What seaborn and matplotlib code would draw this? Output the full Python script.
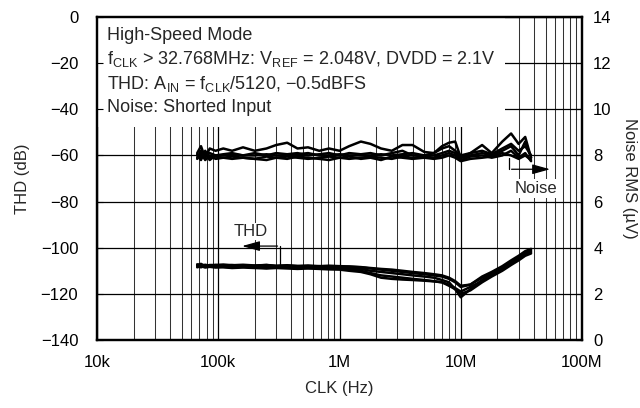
import numpy as np
import pandas as pd
import matplotlib
matplotlib.use("Agg")
import matplotlib.pyplot as plt
from matplotlib.patches import Rectangle
from matplotlib.ticker import FixedLocator, LogLocator, NullFormatter
import seaborn as sns

# clock frequencies (Hz) shared by every sweep
freq = [67e3, 72e3, 78e3, 85e3, 95e3, 110e3, 130e3, 160e3, 200e3, 250e3,
        300e3, 370e3, 450e3, 550e3, 680e3, 820e3, 1.0e6, 1.2e6, 1.5e6, 1.8e6,
        2.2e6, 2.7e6, 3.3e6, 4.0e6, 5.0e6, 6.0e6, 7.0e6, 8.0e6, 9.0e6, 10e6,
        12e6, 15e6, 18e6, 22e6, 26e6, 30e6, 34e6, 38e6]

# noise RMS (uV), one list per device
noise_1 = [8.1, 8.4, 7.9, 8.3, 8.2, 8.3, 8.2, 8.35, 8.2, 8.3, 8.45, 8.55, 8.3, 8.35, 8.2, 8.3, 8.2, 8.4, 8.6,
           8.5, 8.3, 8.2, 8.45, 8.45, 8.15, 8.1, 8.4, 8.55, 8.6, 7.9, 8.1, 8.45, 8.1, 8.6, 8.95, 8.5, 8.8, 7.9]
noise_2 = [7.9, 8.2, 8.0, 8.1, 8.0, 8.05, 8.1, 8.0, 8.1, 8.0, 8.1, 8.05, 8.1, 8.0, 8.05, 8.1, 8.0, 8.1, 8.05,
           8.1, 8.0, 8.1, 8.2, 8.0, 8.0, 8.1, 8.3, 8.4, 8.2, 8.0, 8.1, 8.2, 8.05, 8.3, 8.5, 8.2, 8.4, 8.0]
noise_3 = [8.0, 7.8, 8.2, 7.9, 7.95, 7.9, 7.95, 7.9, 7.85, 7.95, 7.9, 7.95, 7.9, 7.85, 7.9, 7.95, 7.9, 7.85, 7.9,
           7.95, 7.9, 7.85, 7.95, 7.9, 7.95, 7.9, 8.0, 8.1, 8.0, 7.8, 7.95, 8.0, 7.9, 8.0, 8.2, 7.9, 8.1, 7.75]
noise_4 = [7.85, 8.1, 7.8, 8.0, 7.85, 7.9, 7.85, 7.9, 7.85, 7.8, 7.9, 7.85, 7.95, 7.9, 7.85, 7.8, 7.9, 7.95, 7.85,
           7.9, 7.8, 7.95, 7.9, 7.85, 7.9, 7.85, 7.9, 8.0, 7.9, 7.75, 7.85, 7.9, 7.95, 8.1, 8.0, 7.85, 8.0, 7.8]
noise_5 = [8.05, 7.9, 8.1, 7.8, 8.0, 8.0, 8.05, 8.0, 8.0, 8.05, 8.0, 8.0, 8.05, 8.1, 8.0, 8.0, 8.05, 8.0, 8.0,
           8.0, 8.05, 8.0, 8.05, 8.1, 8.0, 8.0, 8.1, 8.2, 8.1, 7.9, 8.0, 8.1, 8.0, 8.2, 8.4, 8.0, 8.6, 7.9]

# THD (dB), one list per device
thd_1 = [-107.5, -107, -108, -107.5, -107.5, -107.8, -107.5, -108, -107.8, -107.5, -108, -107.8, -108, -108.2,
         -108, -108.3, -108.5, -108.3, -108.5, -109, -109.5, -110, -110.5, -111, -111.5, -112, -112.5, -113.5,
         -115, -117, -116, -113, -111, -108.5, -106, -104, -102, -101.5]
thd_2 = [-108, -108.5, -107.8, -108.2, -108, -108.3, -108.5, -108.2, -108.5, -108.8, -108.5, -108.6, -108.5,
         -108.8, -108.7, -109, -109, -109.5, -110, -111, -112, -112.5, -113, -113.5, -114, -114.5, -115, -116,
         -117.5, -119, -117, -114.5, -112, -109.5, -107, -105, -103, -102]
thd_3 = [-107.8, -108.2, -108, -107.6, -108, -107.8, -108, -108.3, -108, -108.2, -108.5, -108.3, -108.2, -108.5,
         -108.6, -108.5, -108.8, -109, -109.2, -110, -110.5, -111, -111.5, -112, -112.5, -113, -114, -115, -118,
         -121.5, -118, -114, -111.5, -109, -106.5, -104.5, -102.5, -101]
thd_4 = [-108.5, -108, -108.6, -108.3, -108.6, -108.5, -108.8, -108.6, -108.8, -109, -108.8, -109, -109.2, -109,
         -109.2, -109.4, -109.5, -110, -110.5, -111.5, -113, -113.5, -113.8, -114, -114.3, -114.6, -115, -116.5,
         -118, -120, -118.5, -115, -112.5, -110, -107.5, -105.5, -103.5, -102.5]
thd_5 = [-107.2, -107.8, -107.4, -107.8, -107.5, -107.3, -107.6, -107.4, -107.7, -107.5, -107.8, -107.6, -107.9,
         -107.7, -108, -107.8, -108, -108.1, -108.4, -108.8, -109.2, -109.5, -110, -110.5, -111, -111.5, -112,
         -113, -114.5, -116.5, -116, -112.5, -110.5, -108, -105.5, -103.5, -101.5, -100.5]

x_ticks = [1e4, 1e5, 1e6, 1e7, 1e8]
x_labels = ["10k", "100k", "1M", "10M", "100M"]

notes = ["High-Speed Mode",
         r"f$_\mathregular{CLK}$ > 32.768MHz: V$_\mathregular{REF}$ = 2.048V, DVDD = 2.1V",
         r"THD: A$_\mathregular{IN}$ = f$_\mathregular{CLK}$/5120, $-$0.5dBFS",
         "Noise: Shorted Input"]


def long_frame(series, name):
    rows = []
    for i, vals in enumerate(series):
        for f, v in zip(freq, vals):
            rows.append({"freq": f, name: v, "unit": i})
    return pd.DataFrame(rows)


noise_df = long_frame([noise_1, noise_2, noise_3, noise_4, noise_5], "noise")
thd_df = long_frame([thd_1, thd_2, thd_3, thd_4, thd_5], "thd")

sns.set_theme(style="white")
plt.rcParams["font.family"] = ["Liberation Sans", "DejaVu Sans"]
plt.rcParams["mathtext.fontset"] = "custom"
plt.rcParams["mathtext.rm"] = "Liberation Sans"
plt.rcParams["mathtext.it"] = "Liberation Sans:italic"

FS = 12

fig = plt.figure(figsize=(6.4, 4.08), dpi=100)
ax = fig.add_axes([0.1516, 0.1667, 0.7578, 0.7917])
ax2 = ax.twinx()

ax.set_xscale("log")
ax.set_xlim(1e4, 1e8)
ax.set_ylim(-140, 0)
ax2.set_ylim(0, 14)

sns.lineplot(data=thd_df, x="freq", y="thd", units="unit", estimator=None,
             color="black", lw=1.8, ax=ax, zorder=3)
sns.lineplot(data=noise_df, x="freq", y="noise", units="unit", estimator=None,
             color="black", lw=1.8, ax=ax2, zorder=3)

# grid lives on ax (below the note box); ticks are drawn by ax2 on top
ax.xaxis.set_major_locator(FixedLocator(x_ticks))
ax.set_xticklabels(x_labels)
ax.xaxis.set_minor_locator(LogLocator(base=10, subs=np.arange(2, 10)))
ax.xaxis.set_minor_formatter(NullFormatter())
ax.set_yticks(np.arange(-140, 1, 20))
ax2.set_yticks(np.arange(0, 15, 2))
ax.set_axisbelow(True)
ax.grid(which="major", axis="both", color="black", lw=0.9)
ax.grid(which="minor", axis="x", color="#333333", lw=0.75)

ax.tick_params(which="both", length=0, labelsize=FS, colors="black")
ax.tick_params(axis="x", pad=11)
ax.tick_params(axis="y", pad=13.5)
ax2.tick_params(axis="y", which="both", direction="in", length=4, width=0.8,
                left=True, right=True, labelsize=FS, colors="black", pad=8)
ax2.tick_params(axis="x", which="both", direction="in", width=0.8,
                top=True, bottom=True, labeltop=False, labelbottom=False)
ax2.tick_params(axis="x", which="major", length=6)
ax2.tick_params(axis="x", which="minor", length=4)
for a in (ax, ax2):
    for s in a.spines.values():
        s.set_linewidth(1.6)
        s.set_color("black")

ax.set_xlabel("CLK (Hz)", fontsize=FS)
ax.set_ylabel("THD (dB)", fontsize=FS)
ax2.set_ylabel("Noise RMS (\u00b5V)", fontsize=FS, rotation=270, va="center")
ax.xaxis.set_label_coords(0.5, -0.127)
ax.yaxis.set_label_coords(-0.138, 0.5)
ax2.yaxis.set_label_coords(1.097, 0.5)

# white note box over the grid
ax.add_patch(Rectangle((0, 0.659), 0.842, 0.341, transform=ax.transAxes,
                       facecolor="white", edgecolor="none", zorder=1))
for i, line in enumerate(notes):
    ax.text(0.02, 0.944 - i * 0.075, line, transform=ax.transAxes, fontsize=13,
            va="center", ha="left", zorder=4)

# series markers
ax.annotate("", xy=(1.49e5, -99.3), xytext=(3.25e5, -99.3),
            arrowprops=dict(arrowstyle="-|>,head_length=0.9,head_width=0.25", color="black", lw=0.9),
            zorder=4)
ax.plot([3.25e5, 3.25e5], [-99.3, -107.5], color="black", lw=0.9, zorder=4)
ax.text(1.84e5, -93, "THD", fontsize=FS, ha="center", va="center", zorder=4,
        bbox=dict(facecolor="white", edgecolor="none", pad=1))

ax2.annotate("", xy=(5.75e7, 7.4), xytext=(2.49e7, 7.4),
             arrowprops=dict(arrowstyle="-|>,head_length=0.9,head_width=0.25", color="black", lw=0.9),
             zorder=4)
ax2.plot([2.49e7, 2.49e7], [7.4, 7.9], color="black", lw=0.9, zorder=4)
ax2.text(4.2e7, 6.55, "Noise", fontsize=FS, ha="center", va="center", zorder=4,
         bbox=dict(facecolor="white", edgecolor="none", pad=1.5))

fig.savefig("out.png", dpi=100)
